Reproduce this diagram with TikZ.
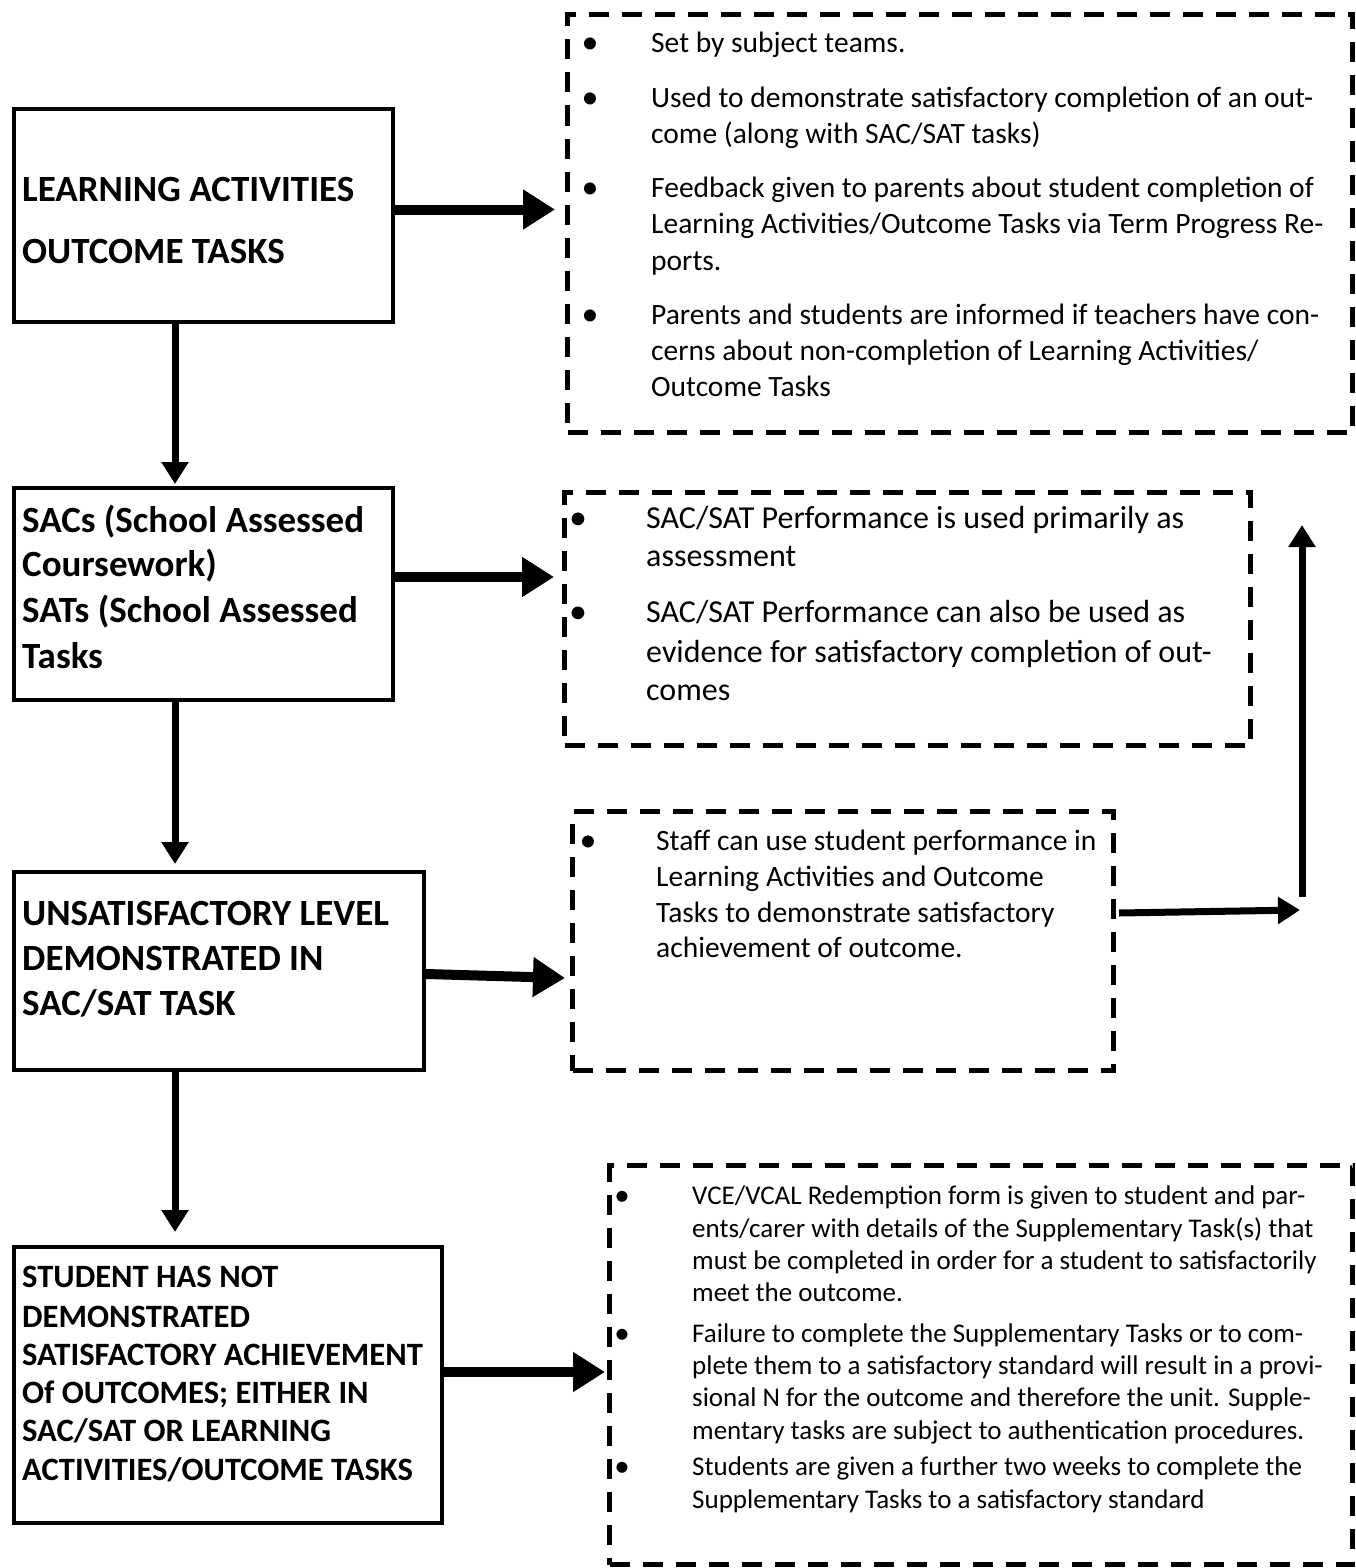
\documentclass[tikz,border=0pt]{standalone}
\usepackage{fontspec}
\setmainfont{Carlito}
\usetikzlibrary{arrows.meta,calc}
\begin{document}
\begin{tikzpicture}[x=1pt,y=-1pt,
  mainbox/.style={draw, line width=4pt, anchor=north west, inner sep=0pt},
  dashbox/.style={draw, line width=5pt, dash pattern=on 20pt off 13pt, anchor=north west, inner sep=0pt},
  bigarrow/.style={line width=10pt, -{Triangle[length=32pt,width=38pt]}},
  downarrow/.style={line width=7pt, -{Triangle[length=22pt,width=26pt]}},
  thinarrow/.style={line width=7pt, -{Triangle[length=22pt,width=26pt]}},
  lefttxt/.style={anchor=base west, inner sep=0pt, font=\bfseries\fontsize{#1}{#1}\selectfont},
  righttxt/.style={anchor=base west, inner sep=0pt, font=\fontsize{#1}{#1}\selectfont},
  bul/.style={anchor=base, inner sep=0pt, font=\fontsize{#1}{#1}\selectfont}
]
\useasboundingbox (0,0) rectangle (1356,1568);

% left boxes
\node[mainbox, minimum width=379pt, minimum height=213pt] (A) at (12,107) {};
\node[mainbox, minimum width=379pt, minimum height=212pt] (B) at (12,486) {};
\node[mainbox, minimum width=410pt, minimum height=198pt] (C) at (12,870) {};
\node[mainbox, minimum width=428pt, minimum height=276pt] (D) at (12,1245) {};

% right dashed boxes
\node[dashbox, minimum width=785pt, minimum height=418pt] (R1) at (565,12) {};
\node[dashbox, minimum width=686pt, minimum height=253pt] (R2) at (562,490) {};
\node[dashbox, minimum width=541pt, minimum height=259pt] (R3) at (570,809) {};
\node[dashbox, minimum width=743pt, minimum height=399pt] (R4) at (607,1163) {};

% left texts
\node[lefttxt=37] (A1) at (22,201) {LEARNING ACTIVITIES};
\node[lefttxt=37] (A2) at (22,263) {OUTCOME TASKS};
\node[lefttxt=37] (B1) at (22,532) {SACs (School Assessed};
\node[lefttxt=37] (B2) at (22,576) {Coursework)};
\node[lefttxt=37] (B3) at (22,622) {SATs (School Assessed};
\node[lefttxt=37] (B4) at (22,668) {Tasks};
\node[lefttxt=37] (C1) at (22,925) {UNSATISFACTORY LEVEL};
\node[lefttxt=37] (C2) at (22,970) {DEMONSTRATED IN};
\node[lefttxt=37] (C3) at (22,1015) {SAC/SAT TASK};
\node[lefttxt=32.6] (D1) at (22,1287) {STUDENT HAS NOT};
\node[lefttxt=32.6] (D2) at (22,1327) {DEMONSTRATED};
\node[lefttxt=32.6] (D3) at (22,1365) {SATISFACTORY ACHIEVEMENT};
\node[lefttxt=32.6] (D4) at (22,1403) {Of OUTCOMES; EITHER IN};
\node[lefttxt=32.6] (D5) at (22,1441) {SAC/SAT OR LEARNING};
\node[lefttxt=32.6] (D6) at (22,1480) {ACTIVITIES/OUTCOME TASKS};

% box 1 text
\foreach \y [count=\i] in {54,109,198,325}
  \node[bul=34] (b1b\i) at (590,\y) {•};
\foreach \y/\t [count=\i] in {
  53/{Set by subject teams.},
  108/{Used to demonstrate satisfactory completion of an out-},
  143/{come (along with SAC/SAT tasks)},
  197/{Feedback given to parents about student completion of},
  233/{Learning Activities/Outcome Tasks via Term Progress Re-},
  270/{ports.},
  324/{Parents and students are informed if teachers have con-},
  360/{cerns about non-completion of Learning Activities/},
  396/{Outcome Tasks}}
  \node[righttxt=29.5] (t1l\i) at (651,\y) {\t};

% box 2 text
\foreach \y [count=\i] in {529,623}
  \node[bul=36] (b2b\i) at (578,\y) {•};
\foreach \y/\t [count=\i] in {
  528/{SAC/SAT Performance is used primarily as},
  566/{assessment},
  622/{SAC/SAT Performance can also be used as},
  662/{evidence for satisfactory completion of out-},
  700/{comes}}
  \node[righttxt=32] (t2l\i) at (646,\y) {\t};

% box 3 text
\node[bul=34] (b3b1) at (588,851) {•};
\foreach \y/\t [count=\i] in {
  850/{Staff can use student performance in},
  886/{Learning Activities and Outcome},
  922/{Tasks to demonstrate satisfactory},
  957/{achievement of outcome.}}
  \node[righttxt=29.5] (t3l\i) at (656,\y) {\t};

% box 4 text
\foreach \y [count=\i] in {1205,1343,1476}
  \node[bul=31] (b4b\i) at (622,\y) {•};
\foreach \y/\t [count=\i] in {
  1204/{VCE/VCAL Redemption form is given to student and par-},
  1237/{ents/carer with details of the Supplementary Task(s) that},
  1269/{must be completed in order for a student to satisfactorily},
  1301/{meet the outcome.},
  1342/{Failure to complete the Supplementary Tasks or to com-},
  1374/{plete them to a satisfactory standard will result in a provi-},
  1406/{sional N for the outcome and therefore the unit. Supple-},
  1439/{mentary tasks are subject to authentication procedures.},
  1475/{Students are given a further two weeks to complete the},
  1508/{Supplementary Tasks to a satisfactory standard}}
  \node[righttxt=27] (t4l\i) at (692,\y) {\t};

% horizontal arrows
\draw[bigarrow] ($(A.east)+(0,-6)$) -- ($(A.east -| R1.west)+(-10,-6)$);
\draw[bigarrow] ($(B.east)+(0,-17)$) -- ($(B.east -| R2.west)+(-8,-17)$);
\draw[bigarrow] ($(C.east)+(0,3)$) -- ($(C.east -| R3.west)+(-5,7)$);
\draw[bigarrow] ($(D.east)+(0,-13)$) -- ($(D.east -| R4.west)+(-2,-13)$);

% vertical arrows
\coordinate (vx) at (175,0);
\draw[downarrow] (A.south -| vx) -- ($(B.north -| vx)+(0,-2)$);
\draw[downarrow] (B.south -| vx) -- ($(C.north -| vx)+(0,-6)$);
\draw[downarrow] (C.south -| vx) -- ($(D.north -| vx)+(0,-13)$);

% feedback arrows on the right
\coordinate (fbend) at (1300,910);
\coordinate (upbot) at (1302,897);
\coordinate (uptop) at (1302,525);
\draw[thinarrow] ($(R3.east)+(3,-28)$) -- (fbend);
\draw[thinarrow] (upbot) -- (uptop);
\end{tikzpicture}
\end{document}
